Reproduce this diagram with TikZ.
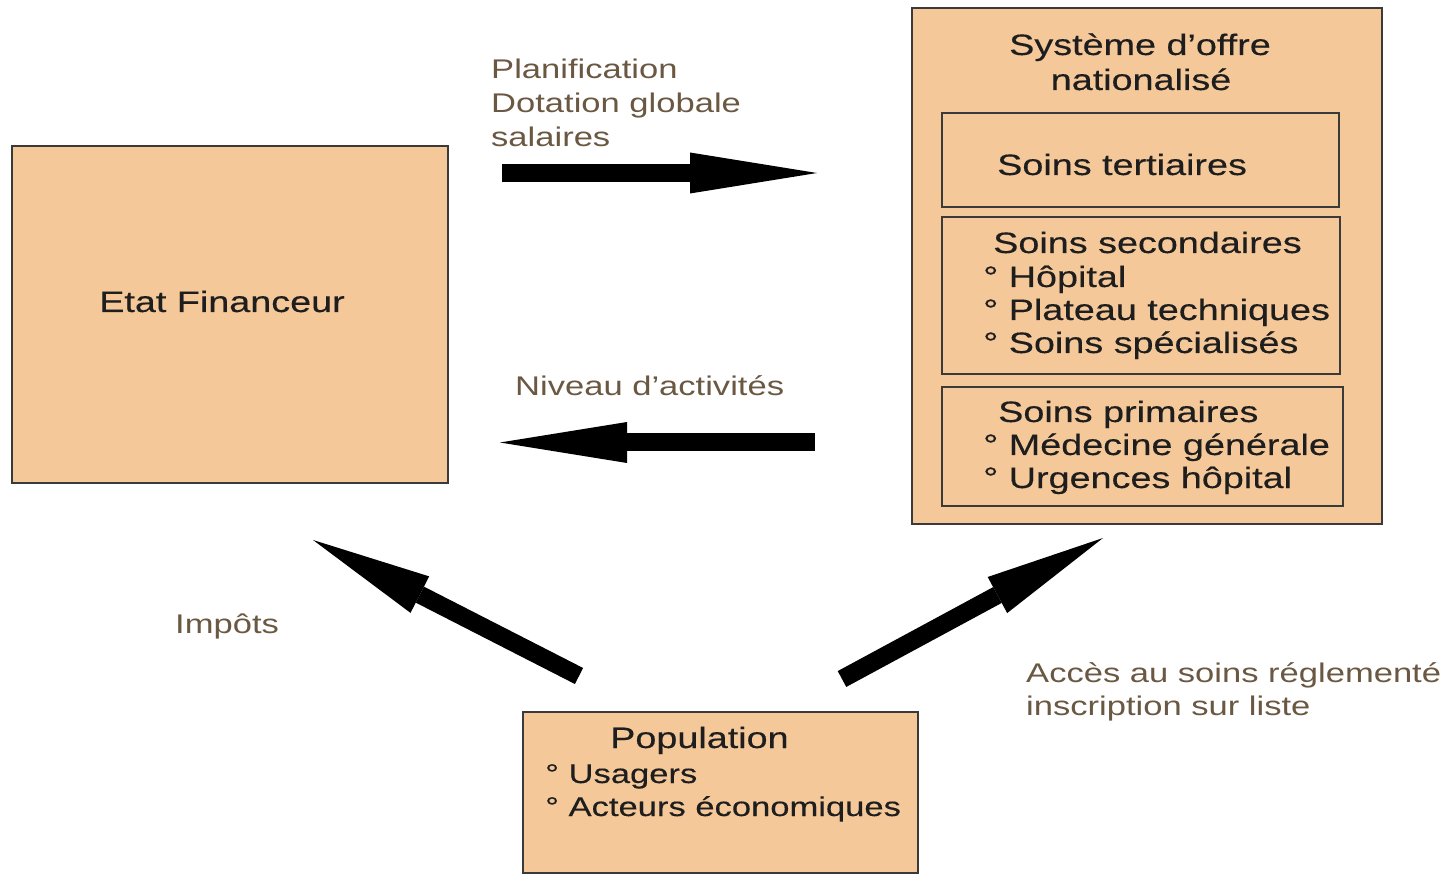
\documentclass[tikz,border=0pt]{standalone}
\usepackage{fontspec}
\setmainfont{Liberation Sans}[FakeStretch=1.28]
\newfontfamily\panelfont{Liberation Sans}[FakeStretch=1.28, FakeBold=0.3]
\usetikzlibrary{arrows.meta}

\definecolor{boxfill}{HTML}{F5C89A}
\definecolor{boxline}{HTML}{3A3A3A}
\definecolor{boxtext}{HTML}{1E1E1E}
\definecolor{labeltext}{HTML}{6B5843}

\begin{document}
\begin{tikzpicture}[x=1pt,y=-1pt,
  panel/.style={draw=boxline, line width=2.2pt, fill=boxfill, inner sep=0pt, anchor=north west},
  boxtxt/.style={text=boxtext, inner sep=0pt, font=\panelfont\fontsize{29.5}{34}\selectfont, anchor=base west},
  smalltxt/.style={boxtxt, font=\panelfont\fontsize{27}{34}\selectfont},
  flowlabel/.style={text=labeltext, inner sep=0pt, font=\fontsize{27}{34}\selectfont, anchor=base west},
  bigarrow/.style={line width=18pt, -{Triangle[length=#1, width=41pt, line width=0pt]}},
  bigarrow/.default=127pt]

  % page frame
  \useasboundingbox (0,0) rectangle (1449,874);

  % boxes
  \node[panel, minimum width=436pt, minimum height=337pt] (etat) at (11,145) {};
  \node[panel, minimum width=470pt, minimum height=516pt] (offre) at (911,7) {};
  \node[panel, minimum width=397pt, minimum height=94pt] (tert) at (941,112) {};
  \node[panel, minimum width=398pt, minimum height=157pt] (second) at (941,216) {};
  \node[panel, minimum width=401pt, minimum height=119pt] (prim) at (941,386) {};
  \node[panel, minimum width=395pt, minimum height=161pt] (pop) at (522,711) {};

  % box texts
  \node[boxtxt, anchor=base] (etatT) at (222,312) {Etat Financeur};
  \node[boxtxt, anchor=base] (offreT1) at (1140,55) {Système d’offre};
  \node[boxtxt, anchor=base] (offreT2) at (1141,90) {nationalisé};
  \node[boxtxt] (tertT) at (997,175) {Soins tertiaires};
  \node[boxtxt] (secT) at (993,253) {Soins secondaires};
  \node[boxtxt] (secA) at (983,287) {°~Hôpital};
  \node[boxtxt] (secB) at (983,320) {°~Plateau techniques};
  \node[boxtxt] (secC) at (983,353) {°~Soins spécialisés};
  \node[boxtxt] (primT) at (998,422) {Soins primaires};
  \node[boxtxt] (primA) at (983,455) {°~Médecine générale};
  \node[boxtxt] (primB) at (983,488) {°~Urgences hôpital};
  \node[boxtxt] (popT) at (610,748) {Population};
  \node[smalltxt] (popA) at (545,783) {°~Usagers};
  \node[smalltxt] (popB) at (545,816) {°~Acteurs économiques};

  % flow labels
  \node[flowlabel] (planA) at (491,79) {Planification};
  \node[flowlabel] (planB) at (491,113) {Dotation globale};
  \node[flowlabel] (planC) at (491,147) {salaires};
  \node[flowlabel] (niveau) at (515,396) {Niveau d'activités};
  \node[flowlabel] (impots) at (175,633) {Impôts};
  \node[flowlabel] (accesA) at (1026,682) {Accès au soins réglementé};
  \node[flowlabel] (accesB) at (1026,715) {inscription sur liste};

  % arrow ends
  \coordinate (finS) at (502,173);
  \coordinate (finE) at (817,173);
  \coordinate (actS) at (815,442.5);
  \coordinate (actE) at (500,442.5);
  \coordinate (impS) at (579,676);
  \coordinate (impE) at (313,540);
  \coordinate (accS) at (842,679);
  \coordinate (accE) at (1103,538);

  % flows
  \draw[bigarrow] (finS) -- (finE);
  \draw[bigarrow] (actS) -- (actE);
  \draw[bigarrow=120pt] (impS) -- (impE);
  \draw[bigarrow=120pt] (accS) -- (accE);
\end{tikzpicture}
\end{document}
